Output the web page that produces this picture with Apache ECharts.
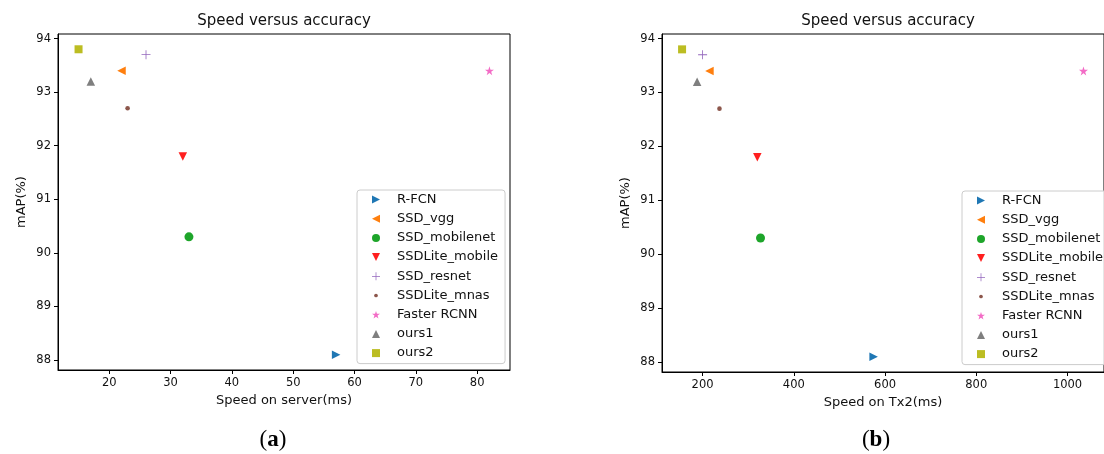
<!DOCTYPE html>
<html>
<head>
<meta charset="utf-8">
<script src="https://cdn.jsdelivr.net/npm/echarts@6/dist/echarts.min.js"></script>
<style>
html,body{margin:0;padding:0;background:#fff;}
#chart{width:1104px;height:454px;}
</style>
</head>
<body>
<div id="chart"></div>
<script>
// ---- data ----
const methods = ['R-FCN','SSD_vgg','SSD_mobilenet','SSDLite_mobile','SSD_resnet','SSDLite_mnas','Faster RCNN','ours1','ours2'];
const serverMs = [57, 22, 33, 32, 26, 23, 82, 17, 15];
const tx2Ms    = [575, 215, 327, 320, 200, 237, 1035, 188, 155];
const mAP      = [88.1, 93.4, 90.3, 91.8, 93.7, 92.7, 93.4, 93.2, 93.8];
const xTicksServer = [20, 30, 40, 50, 60, 70, 80];
const xTicksTx2 = [200, 400, 600, 800, 1000];
const yTicks = [88, 89, 90, 91, 92, 93, 94];

// ---- styling ----
const FONT = 'DejaVu Sans';
const STAR  = 'path://M50,0L61.2,34.5L97.6,34.5L68.2,55.9L79.4,90.5L50,69.1L20.6,90.5L31.8,55.9L2.4,34.5L38.8,34.5Z';
const PLUS  = 'path://M9.1,0H10.9V9.1H20V10.9H10.9V20H9.1V10.9H0V9.1H9.1Z';
const DOT   = 'path://M0,0M20,20M10,5.4A4.6,4.6,0,1,1,10,14.6A4.6,4.6,0,1,1,10,5.4Z';
const TRI_R = 'path://M0,0L10,5L0,10Z';
const TRI_L = 'path://M10,0L0,5L10,10Z';
const TRI_D = 'path://M0,0L10,0L5,10Z';
const TRI_U = 'path://M5,0L10,10L0,10Z';
const SQR   = 'path://M0,0H10V10H0Z';
const styles = [
  {color:'#1f77b4', symbol:TRI_R, size:8.5},
  {color:'#ff7f0e', symbol:TRI_L, size:8.5},
  {color:'#1ea52a', symbol:'circle', size:9},
  {color:'#ff1f1f', symbol:TRI_D, size:8.5},
  {color:'#9467bd', symbol:PLUS, size:9},
  {color:'#8c564b', symbol:DOT, size:10},
  {color:'#f36cc6', symbol:STAR, size:9},
  {color:'#7f7f7f', symbol:TRI_U, size:8.5},
  {color:'#bcbd22', symbol:SQR, size:8}
];

function xAxis(gridIndex, min, max, ticks, name) {
  return {
    type:'value', gridIndex, min, max, name,
    nameLocation:'middle', nameGap:24,
    nameTextStyle:{fontFamily:FONT, fontSize:13, color:'#111'},
    axisLine:{show:true, onZero:false, lineStyle:{color:'#000', width:1}},
    axisTick:{show:true, length:4, lineStyle:{color:'#000'}, customValues:ticks},
    axisLabel:{fontFamily:FONT, fontSize:11.5, color:'#111', margin:7, customValues:ticks,
               formatter:v => String(v)},
    splitLine:{show:false}
  };
}
function yAxis(gridIndex, min, max) {
  return {
    type:'value', gridIndex, min, max, name:'mAP(%)',
    nameLocation:'middle', nameGap:30, nameRotate:90,
    nameTextStyle:{fontFamily:FONT, fontSize:13, color:'#111'},
    axisLine:{show:true, onZero:false, lineStyle:{color:'#000', width:1}},
    axisTick:{show:true, length:4, lineStyle:{color:'#000'}, customValues:yTicks},
    axisLabel:{fontFamily:FONT, fontSize:11.5, color:'#111', margin:7, customValues:yTicks,
               formatter:v => String(v)},
    splitLine:{show:false}
  };
}

const series = [];
[serverMs, tx2Ms].forEach((xs, g) => {
  methods.forEach((m, i) => {
    const s = styles[i];
    series.push({
      type:'scatter', name:m, xAxisIndex:g, yAxisIndex:g,
      symbol:s.symbol, symbolSize:s.size,
      itemStyle:{color:s.color, opacity:1},
      data:[[xs[i], mAP[i]]],
      emphasis:{disabled:true}, animation:false
    });
  });
});

function legend(left, top) {
  return {
    orient:'vertical', left, top,
    data:methods,
    itemWidth:8, itemHeight:8, itemGap:6.2,
    padding:[3,7,4,15],
    borderColor:'#cccccc', borderWidth:1, borderRadius:3,
    backgroundColor:'rgba(255,255,255,0.8)',
    textStyle:{fontFamily:FONT, fontSize:13, lineHeight:13, color:'#111', padding:[0,0,0,12]},
    selectedMode:false
  };
}

function caption(x, letter) {
  return {
    type:'text', x, y:440,
    style:{
      text:'{p|(}{b|' + letter + '}{p|)}',
      rich:{
        p:{fontFamily:'Liberation Serif', fontSize:23, color:'#000'},
        b:{fontFamily:'Liberation Serif', fontSize:23, fontWeight:'bold', color:'#000'}
      },
      align:'center', verticalAlign:'middle'
    }
  };
}

const chart = echarts.init(document.getElementById('chart'), null, {renderer:'canvas'});
chart.setOption({
  animation:false,
  backgroundColor:'#fff',
  grid:[
    {left:58, top:34, width:452, height:336, show:true, borderColor:'#000', borderWidth:1, containLabel:false},
    {left:662, top:34, width:452, height:338, show:true, borderColor:'#000', borderWidth:1, containLabel:false}
  ],
  xAxis:[
    xAxis(0, 11.65, 85.35, xTicksServer, 'Speed on server(ms)'),
    xAxis(1, 111, 1080, xTicksTx2, 'Speed on Tx2(ms)')
  ],
  yAxis:[
    yAxis(0, 87.815, 94.085),
    yAxis(1, 87.815, 94.085)
  ],
  legend:[legend(357, 190), legend(962, 191)],
  series,
  graphic:[
    {type:'text', x:284, y:21, style:{text:'Speed versus accuracy', fontFamily:FONT, fontSize:15, fill:'#111', align:'center', verticalAlign:'middle'}},
    {type:'text', x:888, y:21, style:{text:'Speed versus accuracy', fontFamily:FONT, fontSize:15, fill:'#111', align:'center', verticalAlign:'middle'}},
    caption(273, 'a'),
    caption(876, 'b')
  ]
});
</script>
</body>
</html>
